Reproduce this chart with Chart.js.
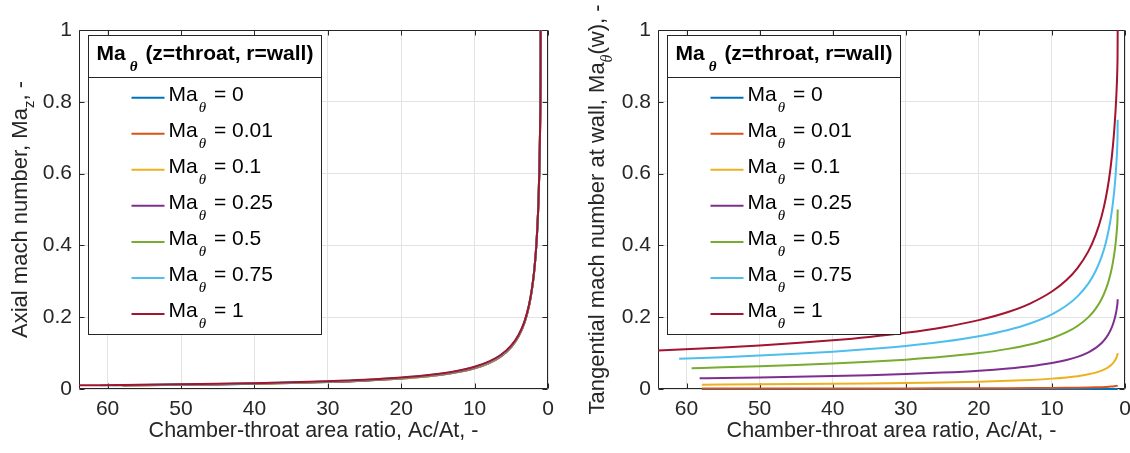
<!DOCTYPE html>
<html>
<head>
<meta charset="utf-8">
<script src="https://cdn.jsdelivr.net/npm/chart.js@4.4.1/dist/chart.umd.min.js"></script>
<style>
  html, body { margin: 0; padding: 0; background: #ffffff; }
  #wrap { position: relative; width: 1130px; height: 453px; overflow: hidden; }
  canvas { position: absolute; top: 0; }
</style>
</head>
<body>
<div id="wrap">
  <canvas id="axial" width="565" height="453" style="left:0px"></canvas>
  <canvas id="tangential" width="565" height="453" style="left:565px"></canvas>
</div>
<script>
// Tangential Mach number imposed at the throat wall, one curve per level
const maThetaValues = [0, 0.01, 0.1, 0.25, 0.5, 0.75, 1];
const seriesColors = ['#0072BD', '#D95319', '#EDB120', '#7E2F8E', '#77AC30', '#4DBEEE', '#A2142F'];

// Chamber-throat area ratios sampled along every curve (after its first point)
const areaRatios = [55, 50, 45, 40, 35, 30, 25, 20, 16, 13, 10, 8, 6.5, 5, 4, 3.2, 2.6, 2.2, 1.9, 1.65, 1.45, 1.3, 1.18, 1.1, 1.05, 1.02, 1.0];
// Largest area ratio reached by each curve (its first point)
const startRatios = [57.9, 57.9, 57.9, 58.2, 59.3, 61.0, 63.9];

// Axial Mach number Ma_z: value at the first point, then at each areaRatios entry
const axialStart = [0.0100, 0.0100, 0.01012, 0.01036, 0.01046, 0.0104, 0.01015];
const axialMa0   = [0.01052, 0.01157, 0.01286, 0.01447, 0.01654, 0.0193, 0.0231, 0.0289, 0.0362, 0.0446, 0.0580, 0.0725, 0.0894, 0.1167, 0.1466, 0.1846, 0.2297, 0.2753, 0.3243, 0.3825, 0.4497, 0.521, 0.607, 0.698, 0.774, 0.852, 1.0];
const axialMa001 = [0.01052, 0.01157, 0.01286, 0.01447, 0.01654, 0.0193, 0.0231, 0.0289, 0.0362, 0.0446, 0.0580, 0.0725, 0.0894, 0.1167, 0.1466, 0.1846, 0.2297, 0.2753, 0.3243, 0.3825, 0.4497, 0.521, 0.607, 0.698, 0.774, 0.852, 1.0];
const axialMa01  = [0.01065, 0.01171, 0.01301, 0.01464, 0.01674, 0.01952, 0.02335, 0.02919, 0.03653, 0.04496, 0.05841, 0.07294, 0.08985, 0.11717, 0.14704, 0.18497, 0.23004, 0.27558, 0.3243, 0.3825, 0.4497, 0.521, 0.607, 0.698, 0.774, 0.852, 1.0];
const axialMa025 = [0.01096, 0.01206, 0.0134, 0.01508, 0.01722, 0.02008, 0.02399, 0.02991, 0.03734, 0.04585, 0.05942, 0.07402, 0.09096, 0.11833, 0.14814, 0.18589, 0.23092, 0.27626, 0.32488, 0.3825, 0.4497, 0.521, 0.607, 0.698, 0.774, 0.852, 1.0];
const axialMa05  = [0.01128, 0.0124, 0.01379, 0.01551, 0.01771, 0.02063, 0.02462, 0.03063, 0.03815, 0.04674, 0.06044, 0.07511, 0.09208, 0.1195, 0.14924, 0.18682, 0.23177, 0.27695, 0.32527, 0.3825, 0.4497, 0.521, 0.607, 0.698, 0.774, 0.852, 1.0];
const axialMa075 = [0.01153, 0.01268, 0.0141, 0.01586, 0.0181, 0.02108, 0.02513, 0.03121, 0.03881, 0.04745, 0.06125, 0.07598, 0.09298, 0.12043, 0.15012, 0.18755, 0.23246, 0.2775, 0.3256, 0.3825, 0.4497, 0.521, 0.607, 0.698, 0.774, 0.852, 1.0];
const axialMa1   = [0.01178, 0.01296, 0.0144, 0.01621, 0.01849, 0.02152, 0.02564, 0.03179, 0.03946, 0.04817, 0.06206, 0.07685, 0.09387, 0.12137, 0.151, 0.18829, 0.23315, 0.27805, 0.32592, 0.3825, 0.4497, 0.521, 0.607, 0.698, 0.774, 0.852, 1.0];

// Tangential Mach number at the wall Ma_theta(w): first point, then each areaRatios entry
const tangStart = [0, 0.0012, 0.012, 0.0299, 0.0581, 0.0842, 0.1073];
const tangMa0   = [0, 0, 0, 0, 0, 0, 0, 0, 0, 0, 0, 0, 0, 0, 0, 0, 0, 0, 0, 0, 0, 0, 0, 0, 0, 0, 0];
const tangMa001 = [0.00123, 0.00129, 0.00136, 0.00144, 0.00154, 0.00167, 0.00183, 0.00204, 0.00228, 0.00253, 0.00289, 0.00323, 0.00358, 0.00409, 0.00457, 0.00512, 0.00569, 0.0062, 0.00669, 0.00721, 0.00773, 0.00822, 0.00871, 0.00912, 0.00943, 0.00967, 0.01];
const tangMa01  = [0.0123, 0.0129, 0.0136, 0.0144, 0.0154, 0.0167, 0.0183, 0.0204, 0.0228, 0.0253, 0.0289, 0.0323, 0.0358, 0.0409, 0.0457, 0.0512, 0.0569, 0.062, 0.0669, 0.0721, 0.0773, 0.0822, 0.0871, 0.0912, 0.0943, 0.0967, 0.1];
const tangMa025 = [0.0308, 0.0323, 0.034, 0.0361, 0.0386, 0.0417, 0.0457, 0.051, 0.0571, 0.0633, 0.0722, 0.0807, 0.0896, 0.1022, 0.1144, 0.128, 0.1423, 0.155, 0.1673, 0.1803, 0.1933, 0.2055, 0.2177, 0.228, 0.2357, 0.2418, 0.25];
const tangMa05  = [0.0603, 0.0633, 0.0667, 0.0707, 0.0756, 0.0817, 0.0895, 0.1000, 0.1118, 0.1241, 0.1415, 0.1582, 0.1756, 0.2003, 0.2241, 0.2509, 0.2789, 0.3038, 0.3279, 0.3533, 0.3789, 0.4028, 0.4267, 0.4468, 0.4619, 0.4764, 0.5];
const tangMa075 = [0.0886, 0.093, 0.098, 0.1039, 0.1111, 0.12, 0.1315, 0.147, 0.1643, 0.1823, 0.2079, 0.2325, 0.258, 0.2943, 0.3293, 0.3686, 0.4098, 0.4465, 0.4818, 0.5191, 0.5568, 0.5919, 0.627, 0.6565, 0.6823, 0.7073, 0.75];
const tangMa1   = [0.1157, 0.1214, 0.1279, 0.1356, 0.145, 0.1567, 0.1716, 0.1919, 0.2145, 0.238, 0.2715, 0.3035, 0.3368, 0.384, 0.43, 0.4813, 0.535, 0.5829, 0.629, 0.6777, 0.7269, 0.7728, 0.8186, 0.8571, 0.8909, 0.9238, 1.0];

// Axis tick labels
const xTickValues = [0, 10, 20, 30, 40, 50, 60];
const yTickValues = [0, 0.2, 0.4, 0.6, 0.8, 1];

const FONT = "'Liberation Sans', Arial, Helvetica, sans-serif";
const SERIF = "'Liberation Serif', 'Times New Roman', serif";
const AXIS_COLOR = '#262626';
const FS = 21;      // tick labels and legend text
const FS_YT = 22;   // y-axis titles

// Text runs made of main-size pieces and lowered subscripts
function richWidth(ctx, parts) {
  let w = 0;
  for (const p of parts) { ctx.font = p.font; w += ctx.measureText(p.text).width + (p.gap || 0); }
  return w;
}
function drawRich(ctx, parts, x, y) {
  let cx = x;
  for (const p of parts) {
    ctx.font = p.font;
    cx += p.gap || 0;
    ctx.fillText(p.text, cx, y + (p.dy || 0));
    cx += ctx.measureText(p.text).width;
  }
}

// Box around the plot area with inward tick marks on all four sides
const framePlugin = {
  id: 'frame',
  beforeDatasetsDraw(chart) {
    const { ctx, chartArea: a, scales } = chart;
    const L = Math.round(a.left) + 0.5, R = Math.round(a.right) - 0.5;
    const T = Math.round(a.top) + 0.5, B = Math.round(a.bottom) - 0.5;
    ctx.save();
    ctx.strokeStyle = AXIS_COLOR;
    ctx.lineWidth = 1;
    ctx.beginPath();
    ctx.rect(L, T, R - L, B - T);
    const len = 5;
    for (const t of scales.x.ticks) {
      const px = Math.round(scales.x.getPixelForValue(t.value)) + 0.5;
      ctx.moveTo(px, B); ctx.lineTo(px, B - len);
      ctx.moveTo(px, T); ctx.lineTo(px, T + len);
    }
    for (const t of scales.y.ticks) {
      const py = Math.round(scales.y.getPixelForValue(t.value)) + 0.5;
      ctx.moveTo(L, py); ctx.lineTo(L + len, py);
      ctx.moveTo(R, py); ctx.lineTo(R - len, py);
    }
    ctx.stroke();
    ctx.restore();
  }
};

// Rotated y-axis title with a subscript
const yTitlePlugin = {
  id: 'yTitle',
  afterDraw(chart, args, opts) {
    const { ctx, chartArea: a } = chart;
    const parts = opts.parts;
    ctx.save();
    ctx.fillStyle = AXIS_COLOR;
    ctx.textBaseline = 'alphabetic';
    ctx.textAlign = 'left';
    const w = richWidth(ctx, parts);
    ctx.translate(opts.baselineX, (a.top + a.bottom) / 2);
    ctx.rotate(-Math.PI / 2);
    drawRich(ctx, parts, -w / 2, 0);
    ctx.restore();
  }
};

// Legend box with a title row, built from the chart's datasets
const legendPlugin = {
  id: 'boxLegend',
  afterDatasetsDraw(chart) {
    const { ctx, chartArea: a } = chart;
    const left = Math.round(a.left + 9) + 0.5, top = 35.5;
    const w = 233, h = 299, titleH = 42;
    ctx.save();
    ctx.fillStyle = '#ffffff';
    ctx.fillRect(left, top, w, h);
    ctx.strokeStyle = AXIS_COLOR;
    ctx.lineWidth = 1;
    ctx.strokeRect(left, top, w, h);
    ctx.beginPath();
    ctx.moveTo(left, top + titleH); ctx.lineTo(left + w, top + titleH);
    ctx.stroke();

    ctx.fillStyle = '#000000';
    ctx.textBaseline = 'alphabetic';
    ctx.textAlign = 'left';
    const title = [
      { text: 'Ma', font: `bold ${FS}px ${FONT}` },
      { text: '\u03B8', font: `bold italic 15px ${SERIF}`, dy: 11, gap: 4 },
      { text: ' (z=throat, r=wall)', font: `bold ${FS}px ${FONT}`, gap: 2 }
    ];
    const tw = richWidth(ctx, title);
    drawRich(ctx, title, left + w / 2 - tw / 2, top + 24.5);

    chart.data.datasets.forEach((ds, i) => {
      const rowY = top + 62.2 + i * 36.05;
      ctx.strokeStyle = ds.borderColor;
      ctx.lineWidth = 2;
      ctx.beginPath();
      ctx.moveTo(left + 43, rowY); ctx.lineTo(left + 76, rowY);
      ctx.stroke();
      ctx.fillStyle = '#000000';
      drawRich(ctx, [
        { text: 'Ma', font: `${FS}px ${FONT}` },
        { text: '\u03B8', font: `italic 15px ${SERIF}`, dy: 11, gap: 1 },
        { text: ' = ' + ds.maTheta, font: `${FS}px ${FONT}`, gap: 2 }
      ], left + 80, rowY + 3);
    });
    ctx.restore();
  }
};

function buildDatasets(startVals, seriesVals) {
  return maThetaValues.map((m, i) => ({
    label: 'Ma\u03B8 = ' + m,
    maTheta: m,
    borderColor: seriesColors[i],
    backgroundColor: seriesColors[i],
    borderWidth: 2,
    pointRadius: 0,
    fill: false,
    clip: 4,
    order: maThetaValues.length - i,
    cubicInterpolationMode: 'monotone',
    data: [{ x: startRatios[i], y: startVals[i] }]
      .concat(areaRatios.map((r, k) => ({ x: r, y: seriesVals[i][k] })))
  }));
}

function makeChart(canvasId, datasets, plotLeft, padRight, titleParts, titleBaselineX) {
  const tickFont = { family: FONT, size: FS };
  return new Chart(document.getElementById(canvasId), {
    type: 'line',
    data: { datasets },
    options: {
      responsive: false,
      animation: false,
      devicePixelRatio: 1,
      layout: { padding: { left: 0, right: padRight, top: 30, bottom: 0 } },
      plugins: {
        legend: { display: false },
        tooltip: { enabled: false },
        yTitle: { parts: titleParts, baselineX: titleBaselineX }
      },
      scales: {
        x: {
          type: 'linear',
          reverse: true,
          min: 0,
          max: 63.9,
          afterBuildTicks: s => { s.ticks = xTickValues.map(v => ({ value: v })); },
          afterFit: s => { s.height = 64; s.paddingLeft = 0; s.paddingRight = 0; },
          grid: { color: '#e3e3e3', lineWidth: 1, drawTicks: false },
          border: { display: false },
          ticks: { padding: 8, color: AXIS_COLOR, font: tickFont, maxRotation: 0, autoSkip: false, callback: v => String(v) },
          title: { display: true, text: 'Chamber-throat area ratio, Ac/At, -', color: AXIS_COLOR, font: { family: FONT, size: 21.5 }, padding: { top: 0, bottom: 9 } }
        },
        y: {
          type: 'linear',
          min: 0,
          max: 1,
          afterBuildTicks: s => { s.ticks = yTickValues.map(v => ({ value: v })); },
          afterFit: s => { s.width = plotLeft; s.paddingTop = 0; s.paddingBottom = 0; },
          grid: { color: '#e3e3e3', lineWidth: 1, drawTicks: false },
          border: { display: false },
          ticks: { padding: 7, color: AXIS_COLOR, font: tickFont, autoSkip: false, callback: v => String(v) }
        }
      }
    },
    plugins: [framePlugin, yTitlePlugin, legendPlugin]
  });
}

makeChart('axial',
  buildDatasets(axialStart, [axialMa0, axialMa001, axialMa01, axialMa025, axialMa05, axialMa075, axialMa1]),
  79, 17,
  [
    { text: 'Axial mach number, Ma', font: `${FS_YT}px ${FONT}` },
    { text: 'z', font: `15px ${FONT}`, dy: 7 },
    { text: ', -', font: `${FS_YT}px ${FONT}` }
  ],
  27);

makeChart('tangential',
  buildDatasets(tangStart, [tangMa0, tangMa001, tangMa01, tangMa025, tangMa05, tangMa075, tangMa1]),
  93, 5,
  [
    { text: 'Tangential mach number at wall, Ma', font: `${FS_YT}px ${FONT}` },
    { text: '\u03B8', font: `italic 16px ${SERIF}`, dy: 8 },
    { text: '(w), -', font: `${FS_YT}px ${FONT}` }
  ],
  39);
</script>
</body>
</html>
